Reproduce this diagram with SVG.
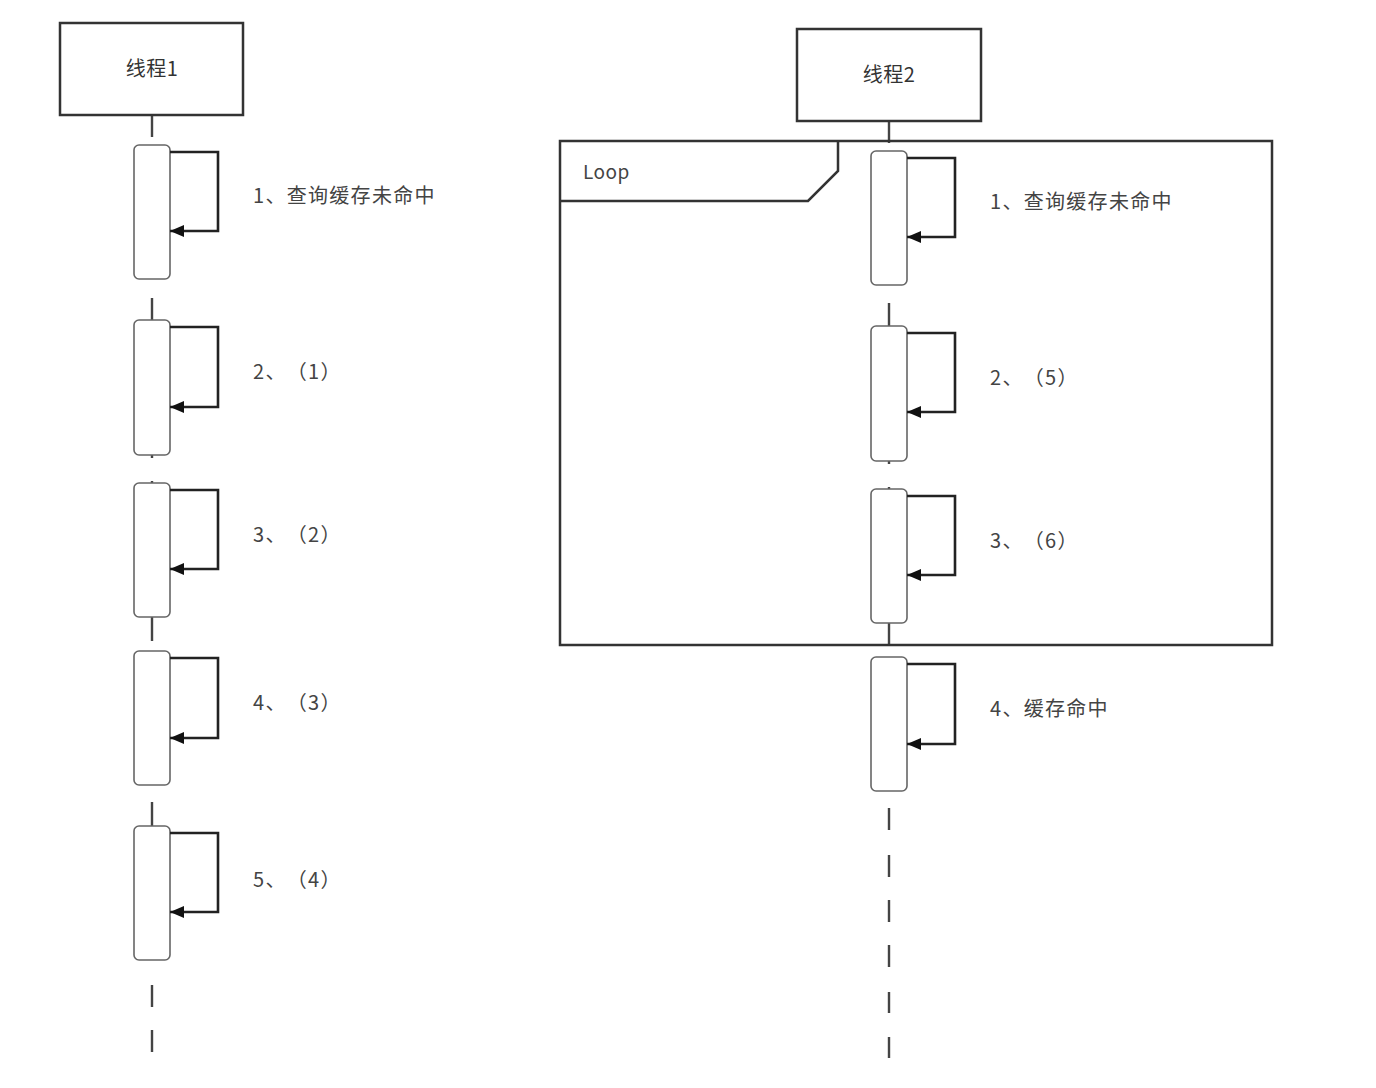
<svg xmlns="http://www.w3.org/2000/svg" width="1376" height="1088" viewBox="0 0 1376 1088">
<defs>
<style>
.hdr{fill:#fff;stroke:#333;stroke-width:2.5}
.act{fill:#fff;stroke:#666;stroke-width:1.6}
.life{stroke:#444;stroke-width:2.4;fill:none}
.msg{stroke:#222;stroke-width:2.6;fill:none}
.frame{fill:none;stroke:#333;stroke-width:2.5}
.t{font-family:"Noto Sans CJK SC","Noto Sans",sans-serif;font-size:20px;fill:#444;letter-spacing:1.3px;text-spacing-trim:space-all}
.h{font-family:"Noto Sans CJK SC","Noto Sans",sans-serif;font-size:20px;fill:#333;text-anchor:middle;letter-spacing:0.5px}
.lp{font-family:"Noto Sans CJK SC","Noto Sans",sans-serif;font-size:19px;fill:#444;letter-spacing:0.5px}
</style>
<marker id="ah" viewBox="0 0 14 12" refX="14" refY="6" markerWidth="14" markerHeight="12" markerUnits="userSpaceOnUse" orient="auto">
<path d="M0,0 L14,6 L0,12 Z" fill="#111"/>
</marker>
</defs>
<rect width="1376" height="1088" fill="#fff"/>

<g id="lifelines">
<path class="life" d="M152,115V137 M152,298V320 M152,455V458 M152,481V483 M152,617V641 M152,802V826 M152,985V1007 M152,1030V1052"/>
<path class="life" d="M889,121V143 M889,303V326 M889,461V464 M889,487V489 M889,623V645 M889,808V830 M889,855V877 M889,900V922 M889,945V967 M889,992V1013 M889,1037V1058"/>
</g>

<g id="loop-frame">
<rect class="frame" x="560" y="141" width="712" height="504"/>
<path class="frame" d="M560,201H808L838,171V141"/>
<text class="lp" x="583" y="179">Loop</text>
</g>

<g id="thread1">
<rect class="hdr" x="60" y="23" width="183" height="92"/>
<text class="h" x="152" y="76">线程1</text>
</g>
<g id="thread2">
<rect class="hdr" x="797" y="29" width="184" height="92"/>
<text class="h" x="889" y="82">线程2</text>
</g>

<g id="activations">
<rect class="act" x="134" y="145" width="36" height="134" rx="5"/>
<rect class="act" x="134" y="320" width="36" height="135" rx="5"/>
<rect class="act" x="134" y="483" width="36" height="134" rx="5"/>
<rect class="act" x="134" y="651" width="36" height="134" rx="5"/>
<rect class="act" x="134" y="826" width="36" height="134" rx="5"/>
<rect class="act" x="871" y="151" width="36" height="134" rx="5"/>
<rect class="act" x="871" y="326" width="36" height="135" rx="5"/>
<rect class="act" x="871" y="489" width="36" height="134" rx="5"/>
<rect class="act" x="871" y="657" width="36" height="134" rx="5"/>
</g>

<g id="connectors">
<path class="msg" marker-end="url(#ah)" d="M170,152H218V231H170"/>
<path class="msg" marker-end="url(#ah)" d="M170,327H218V407H170"/>
<path class="msg" marker-end="url(#ah)" d="M170,490H218V569H170"/>
<path class="msg" marker-end="url(#ah)" d="M170,658H218V738H170"/>
<path class="msg" marker-end="url(#ah)" d="M170,833H218V912H170"/>
<path class="msg" marker-end="url(#ah)" d="M907,158H955V237H907"/>
<path class="msg" marker-end="url(#ah)" d="M907,333H955V412H907"/>
<path class="msg" marker-end="url(#ah)" d="M907,496H955V575H907"/>
<path class="msg" marker-end="url(#ah)" d="M907,664H955V744H907"/>
</g>

<g id="labels">
<text class="t" x="253" y="203">1、查询缓存未命中</text>
<text class="t" x="253" y="379">2、（1）</text>
<text class="t" x="253" y="542">3、（2）</text>
<text class="t" x="253" y="710">4、（3）</text>
<text class="t" x="253" y="887">5、（4）</text>
<text class="t" x="990" y="209">1、查询缓存未命中</text>
<text class="t" x="990" y="385">2、（5）</text>
<text class="t" x="990" y="548">3、（6）</text>
<text class="t" x="990" y="716">4、缓存命中</text>
</g>
</svg>
